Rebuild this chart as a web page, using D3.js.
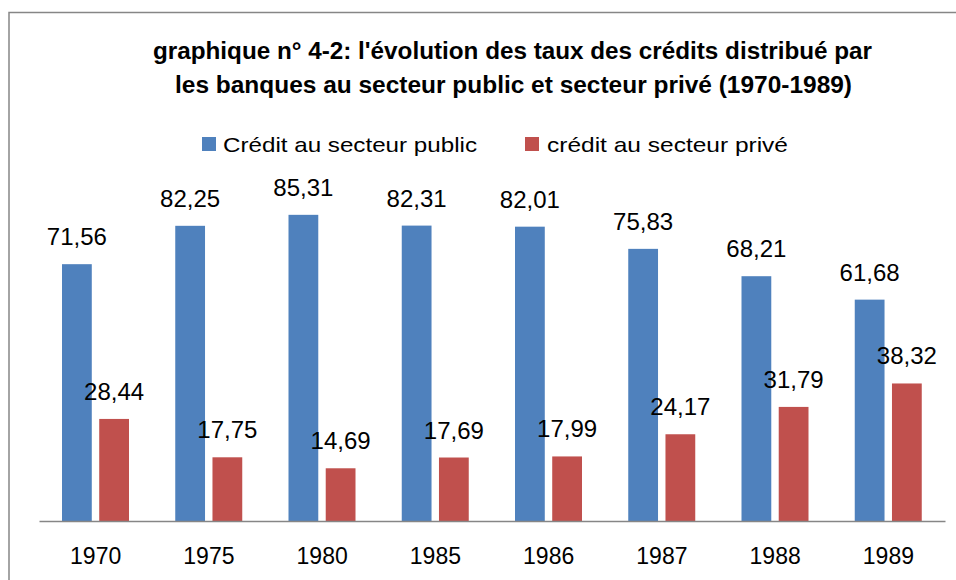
<!DOCTYPE html>
<html>
<head>
<meta charset="utf-8">
<script src="https://cdn.jsdelivr.net/npm/d3@7"></script>
<style>
  html, body { margin: 0; padding: 0; background: #fff; }
  svg { display: block; font-family: "Liberation Sans", Arial, sans-serif; }
</style>
</head>
<body>
<svg id="chart" width="956" height="580"></svg>
<script>
const categories = ["1970", "1975", "1980", "1985", "1986", "1987", "1988", "1989"];
const publicValues = [71.56, 82.25, 85.31, 82.31, 82.01, 75.83, 68.21, 61.68];
const privateValues = [28.44, 17.75, 14.69, 17.69, 17.99, 24.17, 31.79, 38.32];
const seriesNames = ["Crédit au secteur public", "crédit au secteur privé"];
const seriesColors = ["#4F81BD", "#C0504D"];
const titleLines = [
  "graphique n° 4-2: l'évolution des taux des crédits distribué par",
  "les banques au secteur public et secteur privé (1970-1989)"
];

const svg = d3.select("#chart");

// outer frame
svg.append("rect")
  .attr("x", 9).attr("y", 12.5)
  .attr("width", 1000).attr("height", 700)
  .attr("fill", "none").attr("stroke", "#868686").attr("stroke-width", 1.5);

// title
const titleSpec = [{y: 59, len: 719}, {y: 93, len: 677}];
svg.selectAll("text.title").data(titleLines).join("text")
  .attr("class", "title")
  .attr("x", (d, i) => (i === 0 ? 153 : 175))
  .attr("y", (d, i) => titleSpec[i].y)
  .attr("textLength", (d, i) => titleSpec[i].len)
  .attr("lengthAdjust", "spacingAndGlyphs")
  .attr("font-size", 23).attr("font-weight", "bold").attr("fill", "#000")
  .text(d => d);

// legend
const legendSpec = [{sx: 202, tx: 223, len: 254}, {sx: 525, tx: 547, len: 241}];
const lg = svg.selectAll("g.legend").data(seriesNames).join("g").attr("class", "legend");
lg.append("rect")
  .attr("x", (d, i) => legendSpec[i].sx).attr("y", 137)
  .attr("width", 14).attr("height", 14)
  .attr("fill", (d, i) => seriesColors[i]);
lg.append("text")
  .attr("x", (d, i) => legendSpec[i].tx).attr("y", 152)
  .attr("textLength", (d, i) => legendSpec[i].len)
  .attr("lengthAdjust", "spacingAndGlyphs")
  .attr("font-size", 21).attr("fill", "#000")
  .text(d => d);

// scales
const x0 = d3.scaleBand().domain(categories).range([39, 945]);
const x1 = d3.scaleBand().domain([0, 1]).range([23, 90]).paddingInner(0.2);
const y = d3.scaleLinear().domain([0, 90]).range([521, 198]);

const rows = categories.map((c, i) => ({cat: c, vals: [publicValues[i], privateValues[i]]}));

const groups = svg.selectAll("g.grp").data(rows).join("g")
  .attr("class", "grp")
  .attr("transform", d => `translate(${x0(d.cat)},0)`);

const bars = groups.selectAll("g.bar").data(d => d.vals.map((v, k) => ({v, k}))).join("g").attr("class", "bar");
bars.append("rect")
  .attr("x", d => x1(d.k))
  .attr("width", x1.bandwidth())
  .attr("y", d => y(d.v))
  .attr("height", d => y(0) - y(d.v))
  .attr("fill", d => seriesColors[d.k]);

bars.append("text")
  .attr("x", d => x1(d.k) + x1.bandwidth() / 2)
  .attr("y", d => y(d.v) - 19)
  .attr("text-anchor", "middle")
  .attr("font-size", 24).attr("fill", "#000")
  .text(d => d3.format(".2f")(d.v).replace(".", ","));

// x axis
const axis = svg.append("g")
  .attr("transform", `translate(0,${y(0)})`)
  .call(d3.axisBottom(x0).tickSize(0).tickPadding(26.5));
axis.select(".domain").attr("stroke", "#868686").attr("stroke-width", 1.5);
axis.selectAll("text").attr("font-size", 23).attr("fill", "#000")
  .attr("font-family", "Liberation Sans, Arial, sans-serif");
</script>
</body>
</html>
